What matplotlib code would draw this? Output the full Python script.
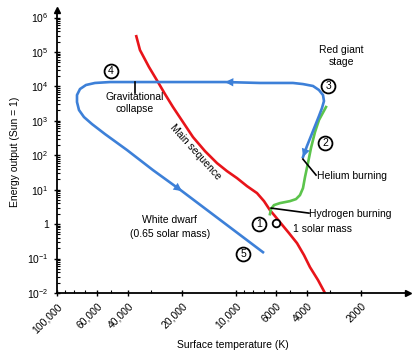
import numpy as np
import matplotlib
matplotlib.use("Agg")
from matplotlib import pyplot as plt
from matplotlib import ticker

# main sequence (temperature K, luminosity in Sun = 1)
ms_t = [36200, 34390, 30620, 27280, 24930, 22490, 19780, 17390, 14900, 12770, 11230, 9870,
        8680, 7630, 6975, 6460, 6055, 5680, 5055, 4560, 4170, 3860, 3480, 3180]
ms_l = [3.12e5, 1.14e5, 3.66e4, 1.34e4, 6010, 2520, 923, 338, 132, 59.3, 34.7, 21.7,
        12.7, 7.96, 4.66, 2.55, 1.71, 1.14, 0.547, 0.28, 0.126, 0.0562, 0.0236, 0.00986]

# hydrogen burning track (green)
h_t = [6460, 6375, 6135, 5680, 4993, 4622, 4390, 4224, 4116, 3962, 3811, 3620, 3439, 3141]
h_l = [1.95, 2.73, 3.57, 4.08, 4.66, 5.33, 6.97, 11.1, 23.2, 59.3, 162, 472, 1055, 2520]

# helium burning -> red giant -> collapse -> white dwarf (blue)
b_t = [4224, 4013, 3811, 3620, 3439, 3308, 3224, 3266, 3439, 3714, 4224, 4804, 7344,
       11520, 26580, 50580, 61350, 68870, 74380, 77300, 77300, 75340, 70680, 63760,
       53930, 40630, 29090, 20030, 7068]
b_l = [88.7, 185, 361, 706, 1379, 2355, 3764, 5623, 7857, 1.03e4, 1.17e4, 1.26e4, 1.26e4,
       1.34e4, 1.34e4, 1.34e4, 1.26e4, 1.10e4, 8400, 5623, 3520, 2060, 1290, 807,
       413, 142, 37.1, 9.1, 0.153]
arrow_idx = [(1, 0), (12, 13), (26, 27)]  # (tail, tip) indices along blue track

# numbered stages
stage_num = ["1", "2", "3", "4", "5"]
stage_t = [7440, 3180, 3060, 49900, 9140]
stage_l = [1.0, 226, 1.03e4, 2.8e4, 0.134]
sun_t, sun_l = 5980, 1.07

xticks = [100000, 60000, 40000, 20000, 10000, 6000, 4000, 2000]
xlabels = ["100,000", "60,000", "40,000", "20,000", "10,000", "6000", "4000", "2000"]
yticks = [1e-2, 1e-1, 1, 1e1, 1e2, 1e3, 1e4, 1e5, 1e6]
ylabels = [r"$\mathregular{10^{-2}}$", r"$\mathregular{10^{-1}}$", "1",
           r"$\mathregular{10^{1}}$", r"$\mathregular{10^{2}}$", r"$\mathregular{10^{3}}$",
           r"$\mathregular{10^{4}}$", r"$\mathregular{10^{5}}$", r"$\mathregular{10^{6}}$"]

red, green, blue = "#e8141a", "#5cc44c", "#3d80d8"
fs = 7.5

plt.rcParams["font.family"] = ["Liberation Sans", "DejaVu Sans"]
fig = plt.figure(figsize=(4.12, 3.58), dpi=100)
ax = fig.add_axes([0.1383, 0.1816, 0.852, 0.7905])

ax.set_xscale("log")
ax.set_yscale("log")
ax.set_xlim(1e5, 1094)
ax.set_ylim(1e-2, 1.66e6)

ax.plot(ms_t, ms_l, color=red, lw=1.9, solid_capstyle="butt")
ax.plot(h_t, h_l, color=green, lw=1.9)
ax.plot(b_t, b_l, color=blue, lw=1.9)
for a, b in arrow_idx:
    ax.annotate("", xy=(b_t[b], b_l[b]), xytext=(b_t[a], b_l[a]),
                arrowprops=dict(arrowstyle="-|>", color=blue, lw=0,
                                mutation_scale=15, shrinkA=0, shrinkB=0))

for s, t, l in zip(stage_num, stage_t, stage_l):
    ax.plot(t, l, "o", ms=10, mfc="white", mec="black", mew=1.3, zorder=5)
    ax.text(t, l, s, ha="center", va="center", fontsize=7.5, zorder=6)
ax.plot(sun_t, sun_l, "o", ms=5.5, mfc="white", mec="black", mew=1.3, zorder=5)

# labels and leader lines
ax.text(2590, 7.7e4, "Red giant\nstage", ha="center", va="center", fontsize=fs, linespacing=1.3)
ax.text(36600, 3290, "Gravitational\ncollapse", ha="center", va="center", fontsize=fs, linespacing=1.2)
ax.plot([36600, 36600], [1.34e4, 6430], color="black", lw=1.2)
ax.text(16900, 124, "Main sequence", ha="center", va="center", fontsize=fs, rotation=-48)
ax.text(3530, 24.9, "Helium burning", ha="left", va="center", fontsize=fs)
ax.plot([4230, 3570], [77.6, 26.6], color="black", lw=1.2)
ax.text(3910, 1.95, "Hydrogen burning", ha="left", va="center", fontsize=fs)
ax.plot([6360, 3910], [2.92, 2.09], color="black", lw=1.2)
ax.text(4810, 0.72, "1 solar mass", ha="left", va="center", fontsize=fs)
ax.text(23400, 0.82, "White dwarf\n(0.65 solar mass)", ha="center", va="center", fontsize=fs, linespacing=1.4)

# axes styling
for side in ["top", "right"]:
    ax.spines[side].set_visible(False)
ax.spines["left"].set_linewidth(1.3)
ax.spines["bottom"].set_linewidth(1.3)
ax.plot(1, 0, ">k", ms=4, transform=ax.transAxes, clip_on=False)
ax.plot(0, 1, "^k", ms=4, transform=ax.transAxes, clip_on=False)

ax.xaxis.set_major_locator(ticker.FixedLocator(xticks))
ax.xaxis.set_major_formatter(ticker.FixedFormatter(xlabels))
ax.xaxis.set_minor_locator(ticker.LogLocator(subs=np.arange(2, 10)))
ax.xaxis.set_minor_formatter(ticker.NullFormatter())
ax.yaxis.set_major_locator(ticker.FixedLocator(yticks))
ax.yaxis.set_major_formatter(ticker.FixedFormatter(ylabels))
ax.yaxis.set_minor_locator(ticker.LogLocator(subs=np.arange(2, 10), numticks=20))
ax.yaxis.set_minor_formatter(ticker.NullFormatter())
ax.tick_params(which="major", direction="inout", length=5, width=1, labelsize=fs)
ax.tick_params(which="minor", direction="in", length=2.5, width=0.8)
plt.setp(ax.get_xticklabels(), rotation=45, ha="right", va="top", rotation_mode="anchor")

ax.set_xlabel("Surface temperature (K)", fontsize=fs, labelpad=4)
ax.set_ylabel("Energy output (Sun = 1)", fontsize=fs, labelpad=5)

fig.savefig("out.png", dpi=100)
